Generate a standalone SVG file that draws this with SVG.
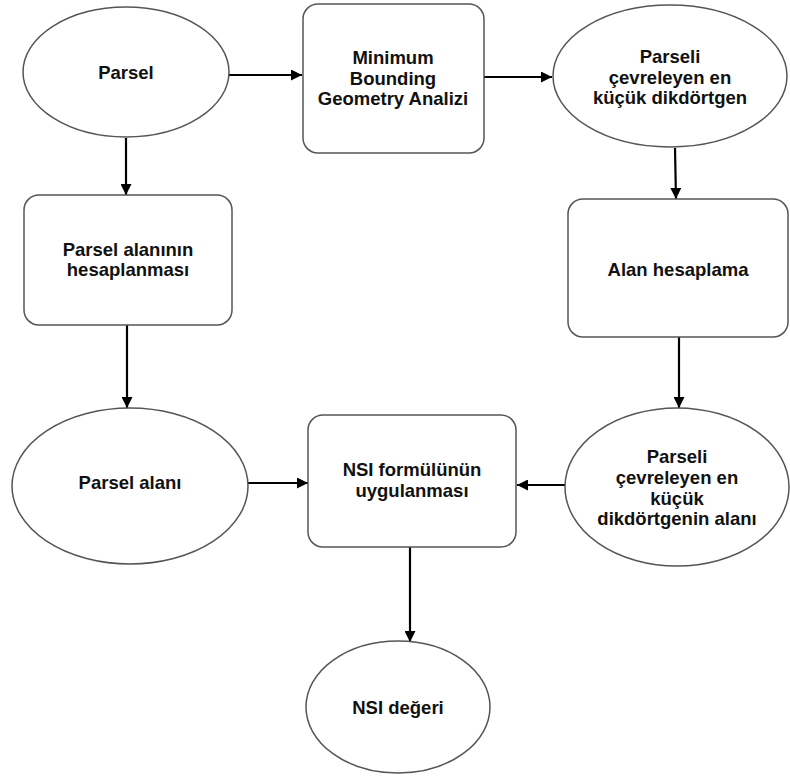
<svg xmlns="http://www.w3.org/2000/svg" width="790" height="776" viewBox="0 0 790 776">
<style>
.n{fill:#fff;stroke:#555;stroke-width:1.5}
.t{font-family:"Liberation Sans",Arial,sans-serif;font-weight:bold;font-size:18.5px;fill:#111;text-anchor:middle}
.c{stroke:#000;stroke-width:2.2;fill:none;marker-end:url(#ah)}
</style>
<defs>
<marker id="ah" viewBox="0 0 10 10" refX="10" refY="5" markerWidth="11" markerHeight="11" markerUnits="userSpaceOnUse" orient="auto">
<path d="M0,0 L10,5 L0,10 z" fill="#000"/>
</marker>
</defs>
<rect width="790" height="776" fill="#fff"/>
<g id="connectors">
<line class="c" x1="229" y1="75" x2="302" y2="75"/>
<line class="c" x1="484" y1="77" x2="552" y2="77"/>
<line class="c" x1="675" y1="148" x2="676" y2="199"/>
<line class="c" x1="126" y1="138" x2="126" y2="195"/>
<line class="c" x1="127" y1="325" x2="127" y2="408"/>
<line class="c" x1="679" y1="337" x2="679" y2="408"/>
<line class="c" x1="248" y1="483" x2="308" y2="483"/>
<line class="c" x1="565" y1="485" x2="517" y2="485"/>
<line class="c" x1="410" y1="547" x2="410" y2="642"/>
</g>
<g id="parsel">
<ellipse class="n" cx="126" cy="72" rx="103" ry="65"/>
<text class="t" x="126" y="79">Parsel</text>
</g>
<g id="mbg">
<rect class="n" x="303" y="4" width="181" height="149" rx="15"/>
<text class="t" x="393" y="64">Minimum</text>
<text class="t" x="393" y="85">Bounding</text>
<text class="t" x="393" y="105">Geometry Analizi</text>
</g>
<g id="mbr">
<ellipse class="n" cx="670" cy="76" rx="117" ry="71"/>
<text class="t" x="670" y="63">Parseli</text>
<text class="t" x="670" y="84">çevreleyen en</text>
<text class="t" x="670" y="104">küçük dikdörtgen</text>
</g>
<g id="parsel-alan-hesap">
<rect class="n" x="24" y="195" width="208" height="130" rx="15"/>
<text class="t" x="128" y="256">Parsel alanının</text>
<text class="t" x="128" y="276">hesaplanması</text>
</g>
<g id="alan-hesaplama">
<rect class="n" x="568" y="199" width="220" height="138" rx="15"/>
<text class="t" x="678" y="276">Alan hesaplama</text>
</g>
<g id="parsel-alani">
<ellipse class="n" cx="130" cy="486" rx="118" ry="78"/>
<text class="t" x="130" y="489">Parsel alanı</text>
</g>
<g id="nsi-formul">
<rect class="n" x="308" y="415" width="208" height="132" rx="15"/>
<text class="t" x="412" y="476">NSI formülünün</text>
<text class="t" x="412" y="497">uygulanması</text>
</g>
<g id="mbr-alan">
<ellipse class="n" cx="677" cy="487" rx="112" ry="79"/>
<text class="t" x="677" y="463">Parseli</text>
<text class="t" x="677" y="484">çevreleyen en</text>
<text class="t" x="677" y="505">küçük</text>
<text class="t" x="677" y="525">dikdörtgenin alanı</text>
</g>
<g id="nsi-degeri">
<ellipse class="n" cx="398" cy="707" rx="92" ry="66"/>
<text class="t" x="398" y="714">NSI değeri</text>
</g>
</svg>
